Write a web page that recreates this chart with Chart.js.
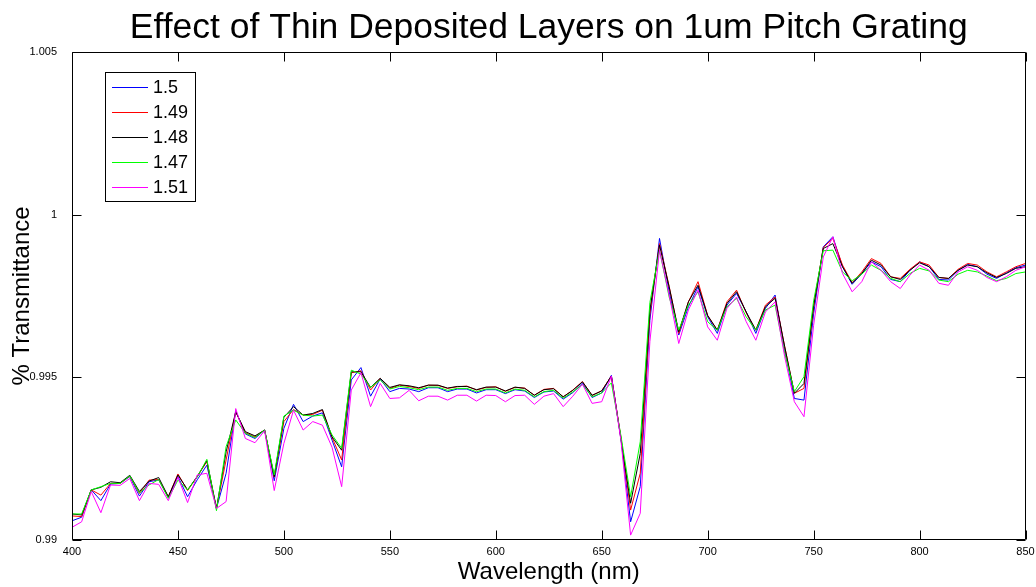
<!DOCTYPE html>
<html>
<head>
<meta charset="utf-8">
<script src="https://cdn.jsdelivr.net/npm/chart.js@4"></script>
<style>
  html, body { margin: 0; padding: 0; background: #fff; }
  #wrap { width: 1036px; height: 587px; position: relative; }
</style>
</head>
<body>
<div id="wrap"><canvas id="gratingChart"></canvas></div>
<script>
// Wavelength samples (nm), 100 points from 400 to 850
const wavelengths = [
  400, 404.55, 409.09, 413.64, 418.18, 422.73, 427.27, 431.82, 436.36, 440.91, 445.45,
  450, 454.55, 459.09, 463.64, 468.18, 472.73, 477.27, 481.82, 486.36, 490.91, 495.45,
  500, 504.55, 509.09, 513.64, 518.18, 522.73, 527.27, 531.82, 536.36, 540.91, 545.45,
  550, 554.55, 559.09, 563.64, 568.18, 572.73, 577.27, 581.82, 586.36, 590.91, 595.45,
  600, 604.55, 609.09, 613.64, 618.18, 622.73, 627.27, 631.82, 636.36, 640.91, 645.45,
  650, 654.55, 659.09, 663.64, 668.18, 672.73, 677.27, 681.82, 686.36, 690.91, 695.45,
  700, 704.55, 709.09, 713.64, 718.18, 722.73, 727.27, 731.82, 736.36, 740.91, 745.45,
  750, 754.55, 759.09, 763.64, 768.18, 772.73, 777.27, 781.82, 786.36, 790.91, 795.45,
  800, 804.55, 809.09, 813.64, 818.18, 822.73, 827.27, 831.82, 836.36, 840.91, 845.45,
  850
];

// Transmittance for each layer index
const n150 = [
  0.99059, 0.99070, 0.99154, 0.99121, 0.99172, 0.99174, 0.99195, 0.99135, 0.99179, 0.99185,
  0.99131, 0.99195, 0.99133, 0.99185, 0.99230, 0.99097, 0.99205, 0.99397, 0.99326, 0.99312,
  0.99338, 0.99182, 0.99343, 0.99417, 0.99364, 0.99381, 0.99391, 0.99307, 0.99225, 0.99492,
  0.99530, 0.99442, 0.99495, 0.99456, 0.99466, 0.99464, 0.99456, 0.99468, 0.99468, 0.99456,
  0.99464, 0.99464, 0.99452, 0.99462, 0.99462, 0.99450, 0.99462, 0.99458, 0.99438, 0.99455,
  0.99458, 0.99433, 0.99453, 0.99482, 0.99438, 0.99452, 0.99506, 0.99310, 0.99056, 0.99164,
  0.99675, 0.99927, 0.99763, 0.99630, 0.99717, 0.99778, 0.99686, 0.99635, 0.99722, 0.99758,
  0.99701, 0.99635, 0.99712, 0.99753, 0.99584, 0.99435, 0.99430, 0.99695, 0.99901, 0.99932,
  0.99840, 0.99786, 0.99819, 0.99855, 0.99840, 0.99801, 0.99794, 0.99829, 0.99855, 0.99840,
  0.99801, 0.99799, 0.99829, 0.99847, 0.99840, 0.99817, 0.99804, 0.99821, 0.99837, 0.99845
];
const n149 = [
  0.99074, 0.99072, 0.99154, 0.99138, 0.99174, 0.99174, 0.99197, 0.99143, 0.99184, 0.99186,
  0.99133, 0.99203, 0.99152, 0.99195, 0.99241, 0.99097, 0.99246, 0.99394, 0.99330, 0.99317,
  0.99338, 0.99193, 0.99364, 0.99401, 0.99384, 0.99386, 0.99399, 0.99315, 0.99246, 0.99514,
  0.99520, 0.99461, 0.99497, 0.99466, 0.99476, 0.99472, 0.99466, 0.99476, 0.99475, 0.99466,
  0.99471, 0.99473, 0.99461, 0.99469, 0.99471, 0.99457, 0.99469, 0.99467, 0.99445, 0.99463,
  0.99466, 0.99440, 0.99461, 0.99487, 0.99444, 0.99459, 0.99504, 0.99315, 0.99092, 0.99205,
  0.99695, 0.99911, 0.99780, 0.99635, 0.99732, 0.99794, 0.99690, 0.99645, 0.99732, 0.99768,
  0.99698, 0.99645, 0.99722, 0.99747, 0.99594, 0.99451, 0.99466, 0.99715, 0.99899, 0.99927,
  0.99845, 0.99791, 0.99824, 0.99865, 0.99850, 0.99809, 0.99804, 0.99832, 0.99855, 0.99845,
  0.99807, 0.99804, 0.99832, 0.99850, 0.99845, 0.99824, 0.99809, 0.99824, 0.99840, 0.99850
];
const n148 = [
  0.99080, 0.99077, 0.99154, 0.99162, 0.99179, 0.99176, 0.99199, 0.99149, 0.99181, 0.99192,
  0.99133, 0.99200, 0.99154, 0.99195, 0.99244, 0.99097, 0.99271, 0.99394, 0.99333, 0.99320,
  0.99338, 0.99195, 0.99377, 0.99410, 0.99384, 0.99389, 0.99401, 0.99317, 0.99276, 0.99517,
  0.99517, 0.99469, 0.99497, 0.99469, 0.99477, 0.99474, 0.99468, 0.99476, 0.99476, 0.99467,
  0.99472, 0.99472, 0.99462, 0.99470, 0.99470, 0.99458, 0.99470, 0.99466, 0.99445, 0.99462,
  0.99465, 0.99440, 0.99460, 0.99486, 0.99445, 0.99458, 0.99504, 0.99310, 0.99113, 0.99266,
  0.99707, 0.99906, 0.99778, 0.99640, 0.99732, 0.99783, 0.99690, 0.99645, 0.99727, 0.99763,
  0.99701, 0.99645, 0.99717, 0.99743, 0.99594, 0.99451, 0.99481, 0.99720, 0.99896, 0.99911,
  0.99840, 0.99789, 0.99819, 0.99860, 0.99845, 0.99809, 0.99801, 0.99829, 0.99852, 0.99840,
  0.99807, 0.99804, 0.99829, 0.99845, 0.99840, 0.99821, 0.99807, 0.99819, 0.99835, 0.99840
];
const n147 = [
  0.99080, 0.99080, 0.99154, 0.99164, 0.99174, 0.99174, 0.99197, 0.99145, 0.99169, 0.99186,
  0.99128, 0.99184, 0.99154, 0.99193, 0.99248, 0.99090, 0.99287, 0.99369, 0.99328, 0.99315,
  0.99338, 0.99200, 0.99381, 0.99399, 0.99384, 0.99381, 0.99384, 0.99323, 0.99282, 0.99522,
  0.99510, 0.99469, 0.99492, 0.99464, 0.99472, 0.99468, 0.99462, 0.99470, 0.99470, 0.99460,
  0.99466, 0.99466, 0.99456, 0.99464, 0.99464, 0.99452, 0.99464, 0.99460, 0.99440, 0.99456,
  0.99460, 0.99436, 0.99455, 0.99478, 0.99440, 0.99452, 0.99483, 0.99320, 0.99133, 0.99302,
  0.99730, 0.99891, 0.99747, 0.99645, 0.99722, 0.99763, 0.99671, 0.99645, 0.99717, 0.99743,
  0.99686, 0.99645, 0.99707, 0.99722, 0.99574, 0.99456, 0.99502, 0.99735, 0.99889, 0.99891,
  0.99824, 0.99797, 0.99817, 0.99845, 0.99829, 0.99804, 0.99794, 0.99819, 0.99835, 0.99827,
  0.99799, 0.99794, 0.99817, 0.99829, 0.99824, 0.99811, 0.99797, 0.99804, 0.99819, 0.99824
];
const n151 = [
  0.99039, 0.99056, 0.99149, 0.99084, 0.99169, 0.99168, 0.99189, 0.99121, 0.99174, 0.99171,
  0.99121, 0.99193, 0.99115, 0.99200, 0.99205, 0.99097, 0.99118, 0.99404, 0.99312, 0.99299,
  0.99336, 0.99152, 0.99297, 0.99399, 0.99338, 0.99364, 0.99353, 0.99285, 0.99164, 0.99461,
  0.99514, 0.99410, 0.99481, 0.99435, 0.99437, 0.99460, 0.99428, 0.99442, 0.99442, 0.99430,
  0.99445, 0.99445, 0.99427, 0.99445, 0.99444, 0.99425, 0.99444, 0.99445, 0.99417, 0.99442,
  0.99450, 0.99410, 0.99442, 0.99479, 0.99420, 0.99425, 0.99504, 0.99305, 0.99015, 0.99082,
  0.99610, 0.99891, 0.99753, 0.99604, 0.99707, 0.99768, 0.99655, 0.99614, 0.99712, 0.99747,
  0.99671, 0.99614, 0.99701, 0.99732, 0.99563, 0.99425, 0.99379, 0.99660, 0.99870, 0.99932,
  0.99819, 0.99763, 0.99794, 0.99855, 0.99829, 0.99794, 0.99773, 0.99814, 0.99845, 0.99829,
  0.99789, 0.99783, 0.99824, 0.99840, 0.99829, 0.99807, 0.99794, 0.99809, 0.99829, 0.99840
];

const seriesNames = ['1.5', '1.49', '1.48', '1.47', '1.51'];
const seriesData = [n150, n149, n148, n147, n151];
const seriesColors = ['#0000ff', '#ff0000', '#000000', '#00ff00', '#ff00ff'];

const xTicks = [400, 450, 500, 550, 600, 650, 700, 750, 800, 850];
const yTicks = [0.99, 0.995, 1, 1.005];

const FONT = "'Liberation Sans', Arial, Helvetica, sans-serif";

// box around the axes with inward tick marks on all four sides
const axesFrame = {
  id: 'axesFrame',
  afterDatasetsDraw(chart) {
    const { ctx, chartArea: a, scales: { x, y } } = chart;
    const L = Math.round(a.left) + 0.5, R = Math.round(a.right) - 0.5;
    const T = Math.round(a.top) + 0.5, B = Math.round(a.bottom) - 0.5;
    ctx.save();
    ctx.strokeStyle = '#000';
    ctx.lineWidth = 1;
    ctx.beginPath();
    xTicks.forEach(v => {
      const px = Math.round(x.getPixelForValue(v)) + 0.5;
      ctx.moveTo(px, B); ctx.lineTo(px, B - 9);
      ctx.moveTo(px, T); ctx.lineTo(px, T + 9);
    });
    yTicks.forEach(v => {
      const py = Math.round(y.getPixelForValue(v)) + 0.5;
      ctx.moveTo(L, py); ctx.lineTo(L + 9, py);
      ctx.moveTo(R, py); ctx.lineTo(R - 9, py);
    });
    ctx.rect(L, T, R - L, B - T);
    ctx.stroke();
    ctx.restore();
  }
};

// keep the title centred over the axes rather than the whole canvas
const titleOverAxes = {
  id: 'titleOverAxes',
  afterLayout(chart) {
    const t = chart.titleBlock;
    if (t) {
      t.left = chart.chartArea.left;
      t.right = chart.chartArea.right;
    }
  }
};

// boxed legend in the upper-left corner of the axes
const boxLegend = {
  id: 'boxLegend',
  afterDraw(chart) {
    const { ctx } = chart;
    const bx = 105.5, by = 72.5, bw = 90, bh = 129;
    ctx.save();
    ctx.fillStyle = '#fff';
    ctx.fillRect(bx, by, bw, bh);
    ctx.strokeStyle = '#000';
    ctx.lineWidth = 1;
    ctx.strokeRect(bx, by, bw, bh);
    ctx.font = '18px ' + FONT;
    ctx.textBaseline = 'middle';
    ctx.textAlign = 'left';
    chart.data.datasets.forEach((ds, i) => {
      const cy = Math.round(87 + i * 25) + 0.5;
      ctx.strokeStyle = ds.borderColor;
      ctx.beginPath();
      ctx.moveTo(112, cy);
      ctx.lineTo(148, cy);
      ctx.stroke();
      ctx.fillStyle = '#000';
      ctx.fillText(ds.label, 153, cy + 1);
    });
    ctx.restore();
  }
};

// first series in the list is drawn underneath, last on top
const datasets = seriesNames.map((name, i) => ({
  label: name,
  data: wavelengths.map((w, k) => ({ x: w, y: seriesData[i][k] })),
  borderColor: seriesColors[i],
  borderWidth: 1,
  pointRadius: 0,
  tension: 0,
  fill: false,
  order: seriesNames.length - i
}));

new Chart(document.getElementById('gratingChart'), {
  type: 'line',
  data: { datasets },
  plugins: [axesFrame, titleOverAxes, boxLegend],
  options: {
    responsive: true,
    maintainAspectRatio: false,
    animation: false,
    layout: { padding: { left: 0, right: 10.5, top: 0, bottom: 0 } },
    plugins: {
      legend: { display: false },
      tooltip: { enabled: false },
      title: {
        display: true,
        text: 'Effect of Thin Deposited Layers on 1um Pitch Grating',
        color: '#000',
        font: { family: FONT, size: 35.5, weight: 'normal' },
        padding: { top: 7, bottom: 2.4 }
      }
    },
    scales: {
      x: {
        type: 'linear',
        min: 400,
        max: 850,
        afterBuildTicks: s => { s.ticks = xTicks.map(v => ({ value: v })); },
        afterFit: s => { s.height = 47; s.paddingLeft = 0; s.paddingRight = 0; },
        grid: { display: false, drawTicks: false },
        border: { display: false },
        ticks: {
          color: '#000',
          padding: 5,
          maxRotation: 0,
          autoSkip: false,
          font: { family: FONT, size: 11 },
          callback: v => String(v)
        },
        title: {
          display: true,
          text: 'Wavelength (nm)',
          color: '#000',
          font: { family: FONT, size: 24 },
          padding: { top: 0, bottom: 0 }
        }
      },
      y: {
        min: 0.99,
        max: 1.005,
        afterBuildTicks: s => { s.ticks = yTicks.map(v => ({ value: v })); },
        afterFit: s => { s.width = 72; },
        grid: { display: false, drawTicks: false },
        border: { display: false },
        ticks: {
          color: '#000',
          padding: 15,
          font: { family: FONT, size: 11 },
          callback: v => String(Number(v.toFixed(3)))
        },
        title: {
          display: true,
          text: '% Transmittance',
          color: '#000',
          font: { family: FONT, size: 24 },
          padding: { top: 8, bottom: 0 }
        }
      }
    }
  }
});
</script>
</body>
</html>
